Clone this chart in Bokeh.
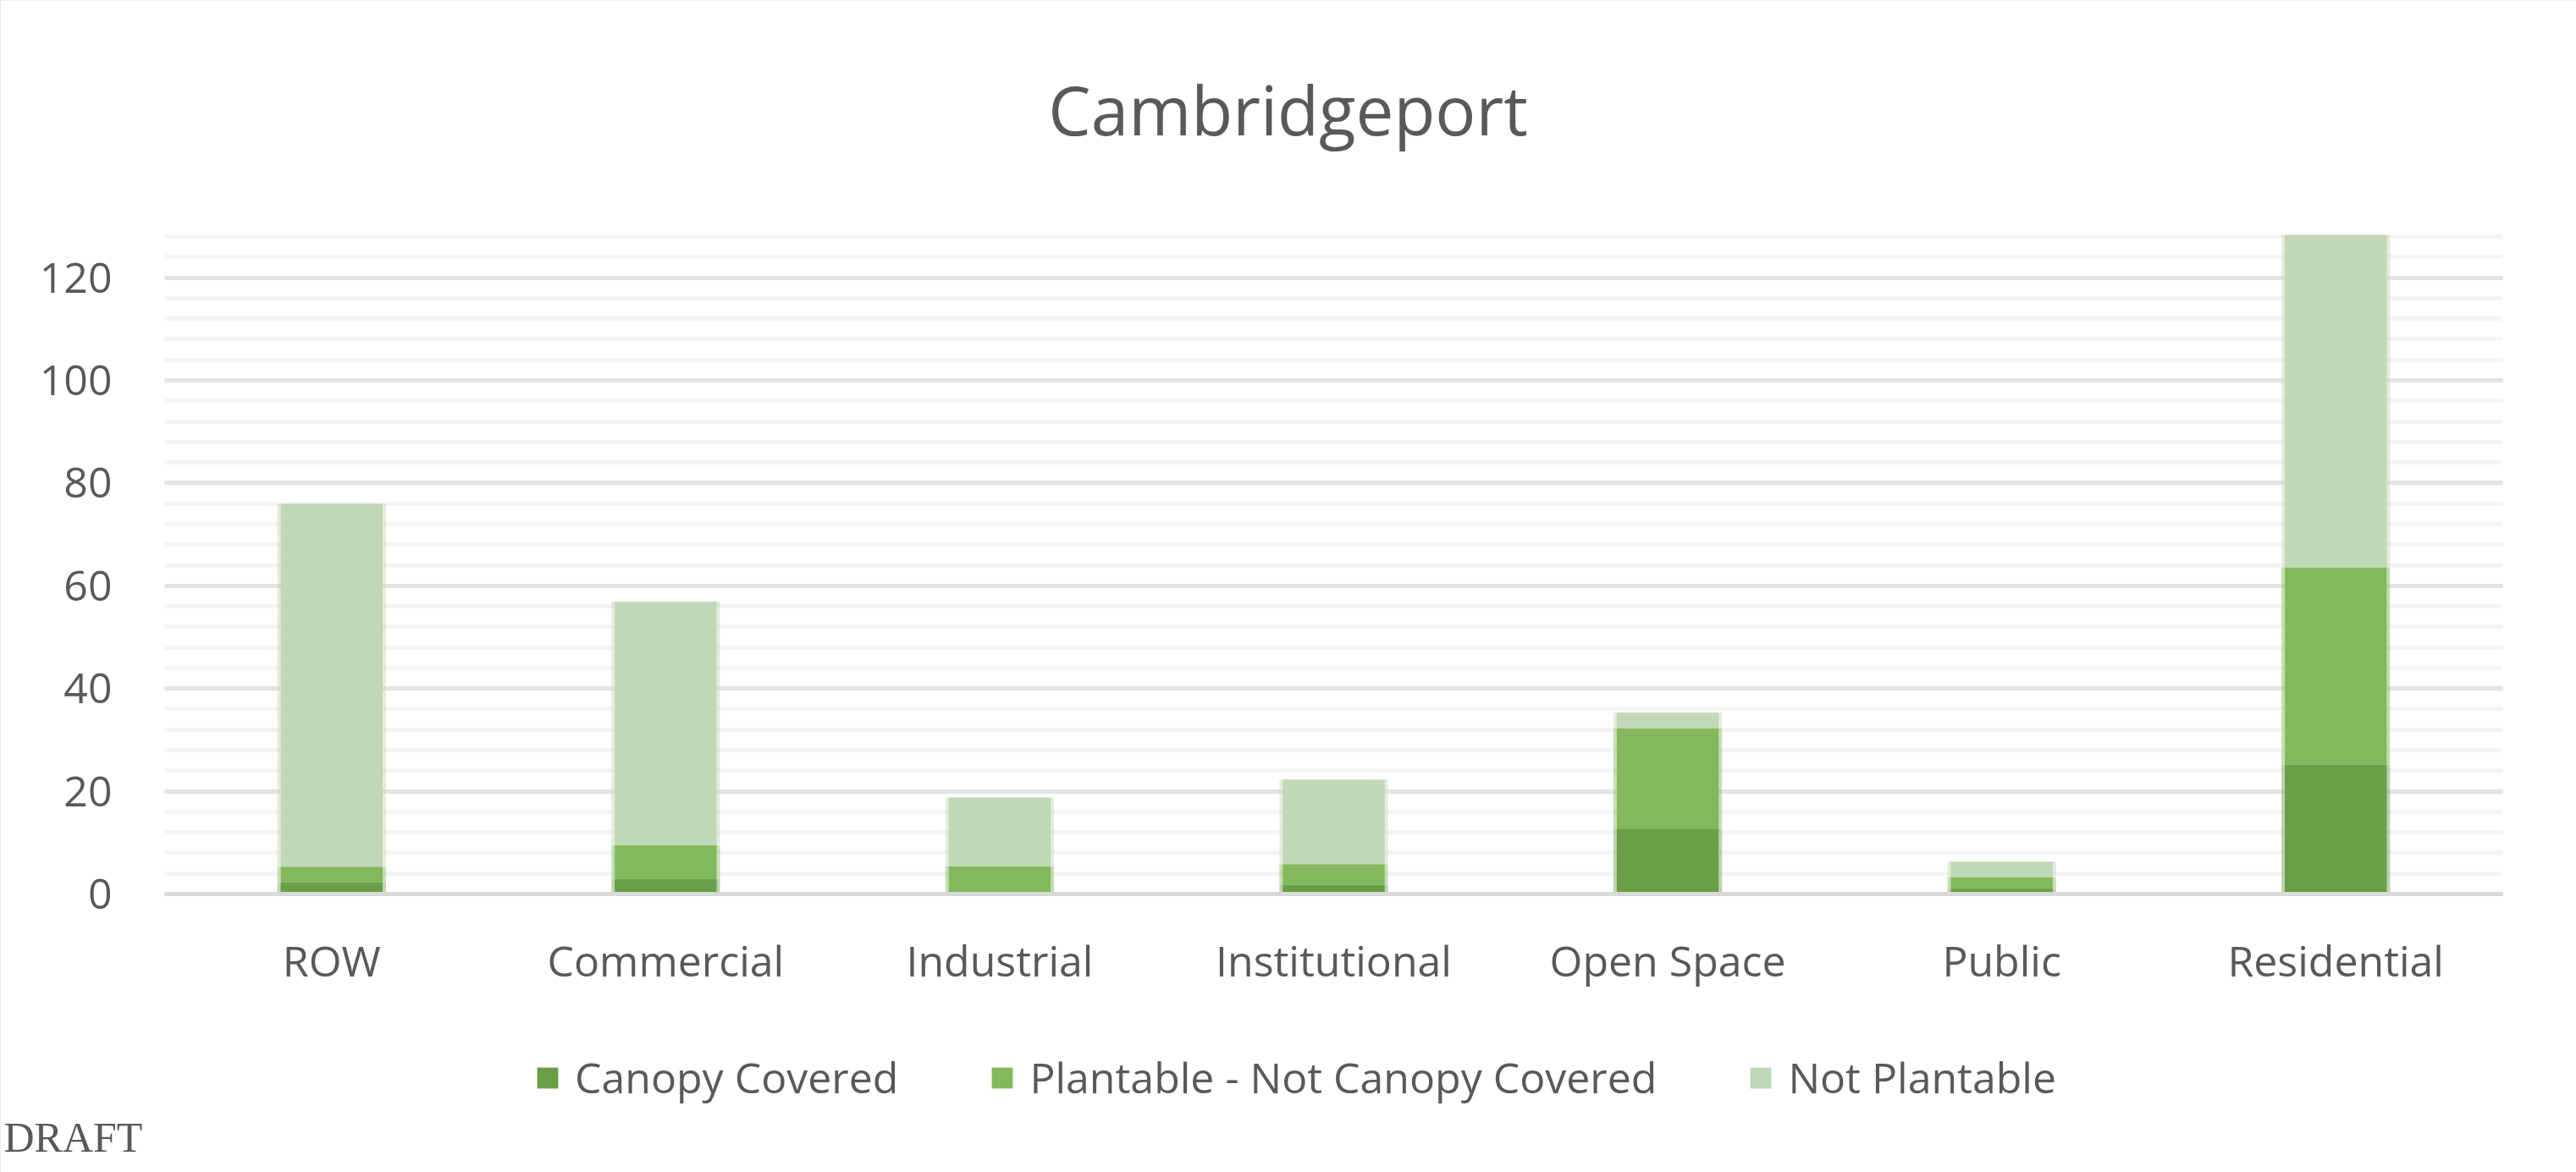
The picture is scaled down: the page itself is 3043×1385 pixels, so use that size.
from bokeh.plotting import figure
from bokeh.models import Range1d, FixedTicker, Legend, LegendItem, Label
from bokeh.embed import file_html
from bokeh.resources import INLINE

# ---- data ----
categories = ["ROW", "Commercial", "Industrial", "Institutional", "Open Space", "Public", "Residential"]
canopy_covered = [2.3, 2.9, 0.0, 1.8, 12.6, 1.1, 25.2]
plantable_not_canopy = [3.0, 6.6, 5.4, 4.0, 19.6, 2.2, 38.4]
not_plantable = [70.7, 47.4, 13.4, 16.5, 3.1, 3.0, 64.7]
series_names = ["Canopy Covered", "Plantable - Not Canopy Covered", "Not Plantable"]
series_colors = ["#6A9E48", "#83B85C", "#C0D8B6"]
y_major_ticks = [0, 20, 40, 60, 80, 100, 120]
y_minor_ticks = list(range(0, 129, 4))
y_axis_max = 128
chart_title = "Cambridgeport"
footer_note = "DRAFT"

TEXT = "#595959"
FONT = "Open Sans"

# ---- layout (pixels on the 3043 x 1385 canvas) ----
W, H = 3043, 1385
PLOT_L, PLOT_R = 194, 2956      # plot area left / right
PLOT_B, PLOT_T = 1056, 279      # y of value 0 / value y_axis_max
ncat = len(categories)
ux = (PLOT_R - PLOT_L) / ncat
uy = (PLOT_B - PLOT_T) / y_axis_max
x_range = Range1d(-PLOT_L / ux, ncat + (W - PLOT_R) / ux)
y_range = Range1d(-(H - PLOT_B) / uy, PLOT_B / uy)

p = figure(width=W, height=H, x_range=x_range, y_range=y_range,
           output_backend="svg", toolbar_location=None,
           min_border_left=0, min_border_right=0, min_border_top=0, min_border_bottom=0,
           background_fill_color="white", border_fill_color="white")
p.title.text = ""
p.title.visible = False
p.outline_line_color = None
p.styles = {"outline": "4px solid #DCDCDC", "outline-offset": "-4px"}

xpos = [i + 0.5 for i in range(ncat)]
data = {"x": xpos, "c": canopy_covered, "p": plantable_not_canopy, "n": not_plantable}
keys = ["c", "p", "n"]

# light halo edge of the bars
p.vbar_stack(keys, x="x", width=0.325, source=data, color=series_colors,
             fill_alpha=0.45, line_color=None)
rs = p.vbar_stack(keys, x="x", width=0.305, source=data, color=series_colors,
                  line_color=None)

# grid
p.xgrid.visible = False
p.yaxis.ticker = FixedTicker(ticks=y_major_ticks, minor_ticks=y_minor_ticks)
p.ygrid.cross_bounds = (0, ncat)
p.ygrid.grid_line_color = "#E4E4E4"
p.ygrid.grid_line_width = 5
p.ygrid.minor_grid_line_color = "#F4F4F4"
p.ygrid.minor_grid_line_width = 5

# y axis
ya = p.yaxis[0]
ya.fixed_location = 0
ya.axis_line_color = None
ya.major_tick_line_color = None
ya.minor_tick_line_color = None
ya.major_tick_out = 0
ya.minor_tick_out = 0
ya.major_label_standoff = 62
ya.major_label_text_font = FONT
ya.major_label_text_font_size = "50px"
ya.major_label_text_color = TEXT

# x axis (categories)
xa = p.xaxis[0]
xa.fixed_location = 0
xa.ticker = FixedTicker(ticks=xpos)
xa.major_label_overrides = {x: c for x, c in zip(xpos, categories)}
xa.bounds = (0, ncat)
xa.axis_line_color = "#D9D9D9"
xa.axis_line_width = 5
xa.major_tick_line_color = None
xa.minor_tick_line_color = None
xa.major_tick_out = 0
xa.major_label_standoff = 44
xa.major_label_text_font = FONT
xa.major_label_text_font_size = "50px"
xa.major_label_text_color = TEXT

# legend
legend = Legend(items=[LegendItem(label=n, renderers=[r]) for n, r in zip(series_names, rs)],
                orientation="horizontal", location=(631, 78),
                glyph_width=31, glyph_height=31, label_standoff=17, spacing=107,
                padding=0, margin=0,
                label_text_font=FONT, label_text_font_size="50px", label_text_color=TEXT,
                border_line_color=None, background_fill_alpha=0)
p.add_layout(legend)

# title and note
p.add_layout(Label(x=1521, y=H - 128, x_units="screen", y_units="screen",
                   text=chart_title, text_align="center", text_baseline="alphabetic",
                   text_font=FONT, text_font_size="80px", text_color=TEXT))
p.add_layout(Label(x=4, y=H - 1343, x_units="screen", y_units="screen",
                   text=footer_note, text_align="left", text_baseline="alphabetic",
                   text_font="Liberation Serif", text_font_size="50px", text_color=TEXT))

open("out.html", "w").write(file_html(p, INLINE))
